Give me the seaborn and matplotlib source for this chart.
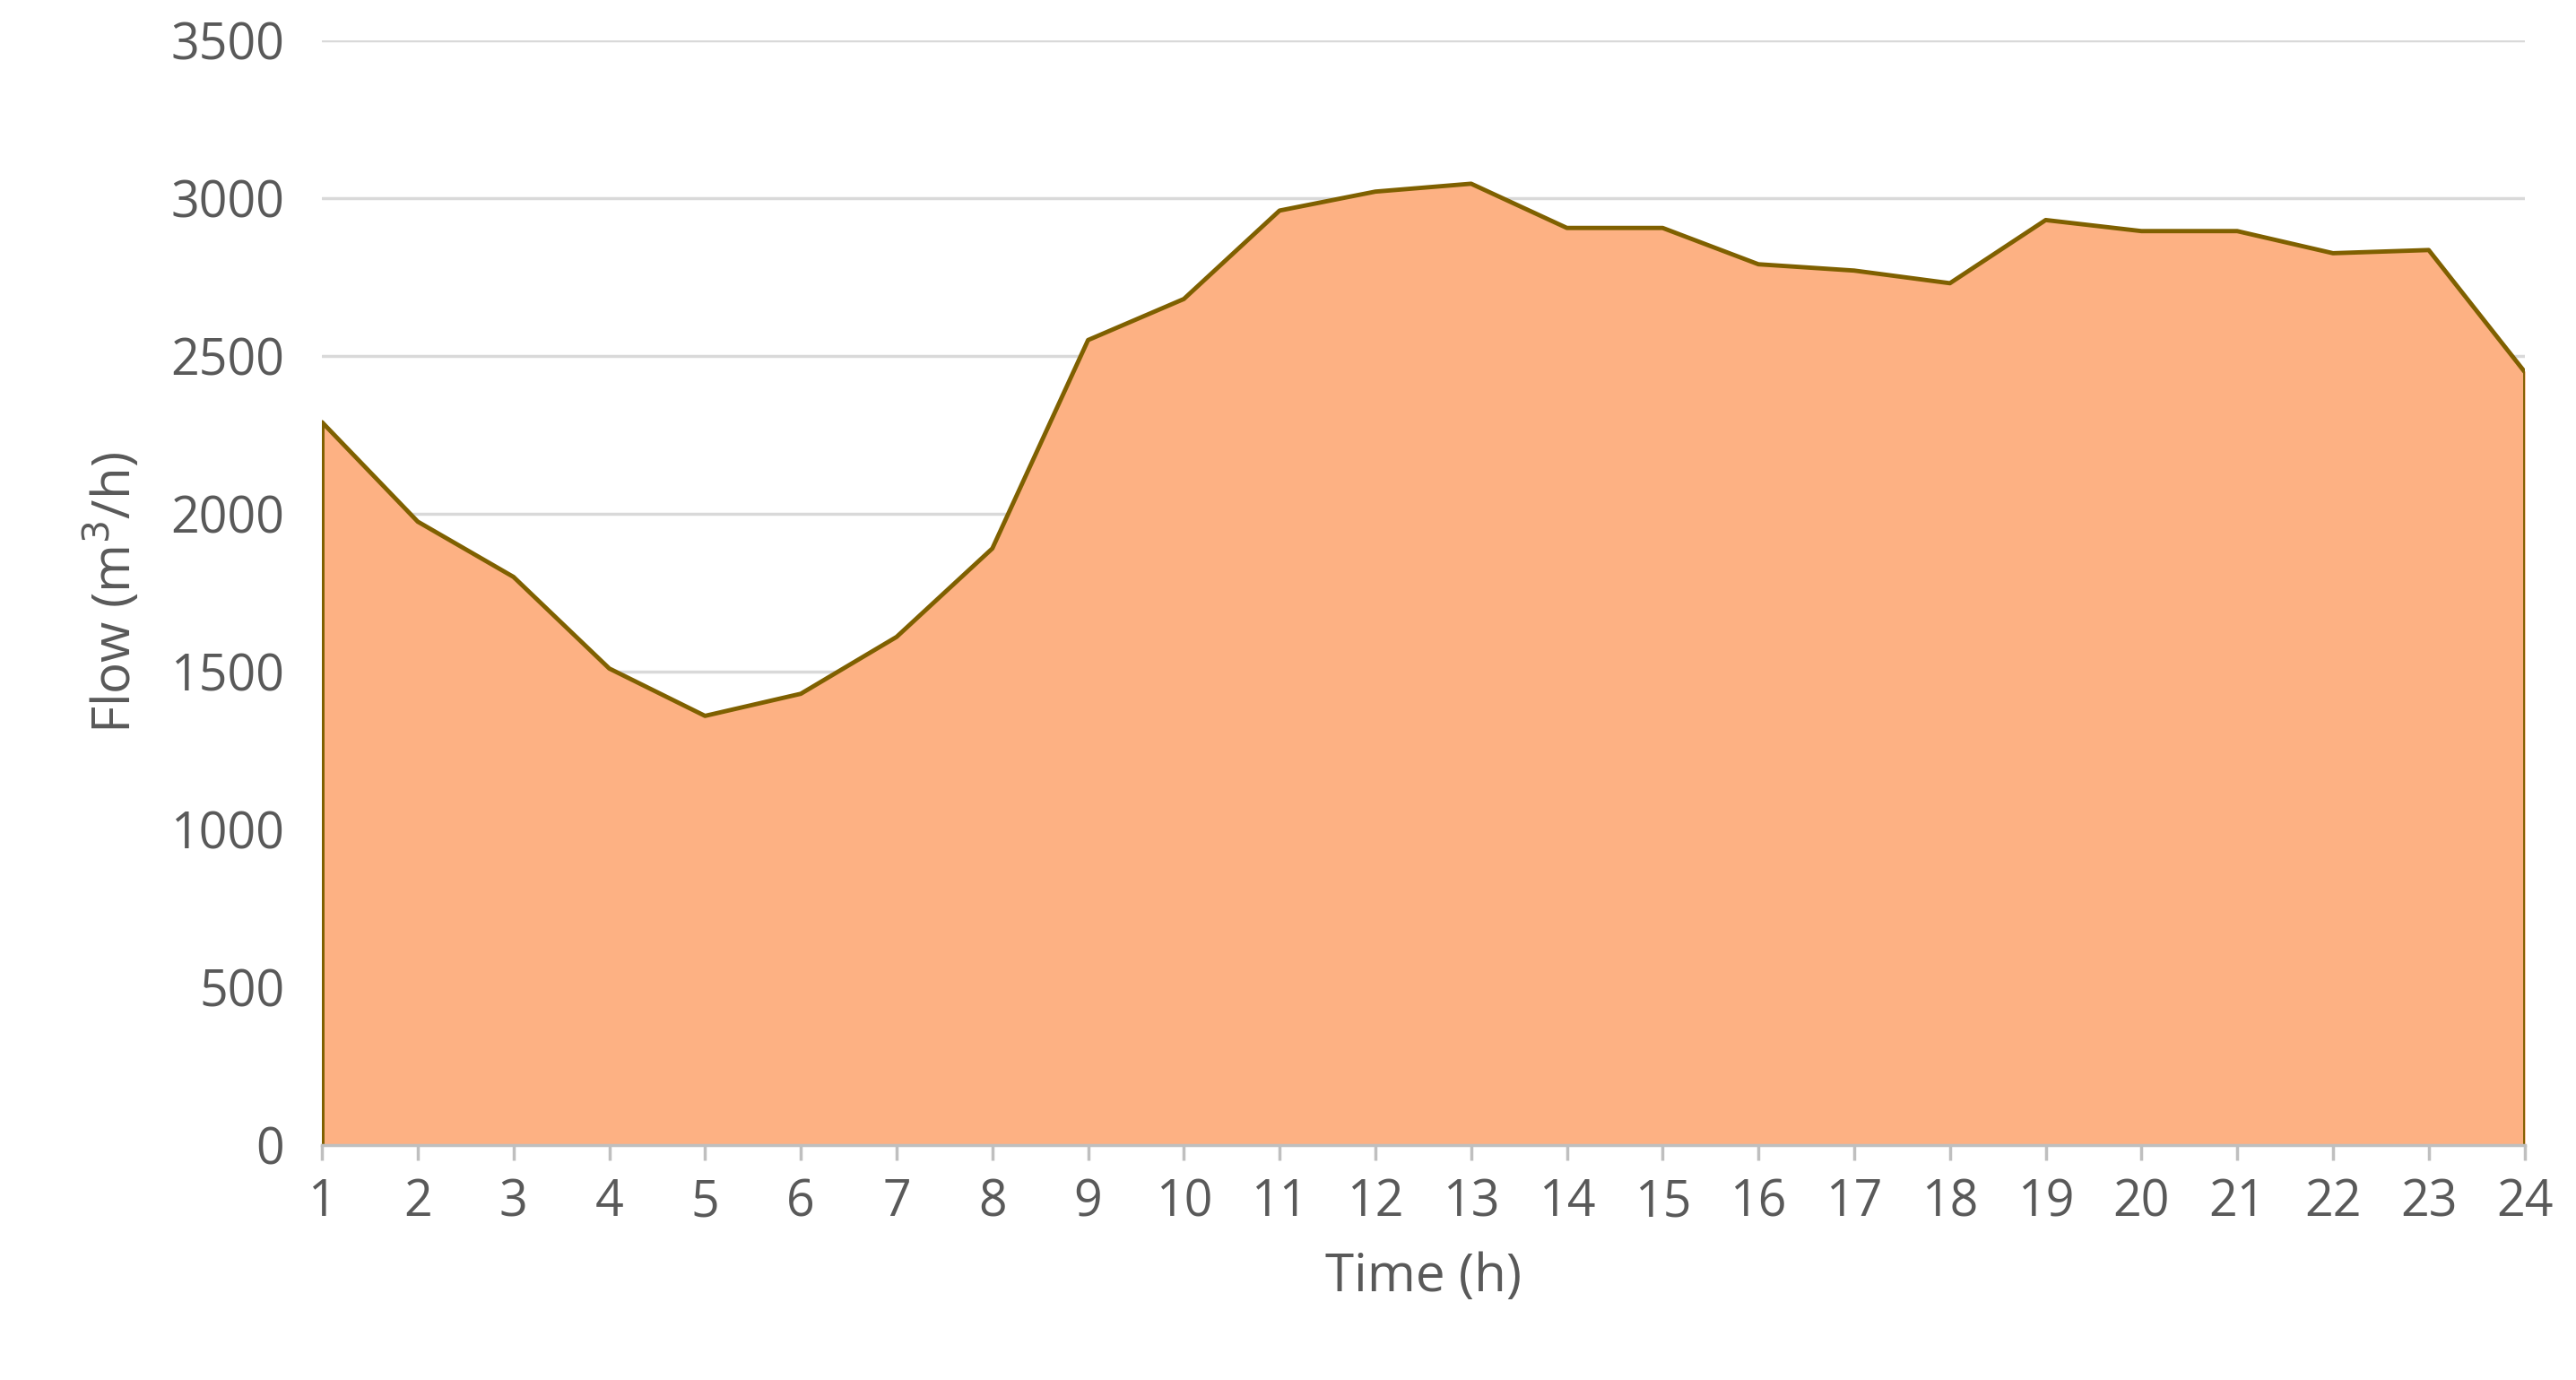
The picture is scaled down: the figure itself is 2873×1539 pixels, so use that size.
import matplotlib
matplotlib.use("Agg")
import matplotlib.pyplot as plt
import seaborn as sns
import pandas as pd

hours = list(range(1, 25))
flow = [2290, 1975, 1800, 1510, 1360, 1430, 1610, 1890, 2550, 2680, 2960, 3020,
        3045, 2905, 2905, 2790, 2770, 2730, 2930, 2895, 2895, 2825, 2835, 2450]
yticks = [0, 500, 1000, 1500, 2000, 2500, 3000, 3500]

sns.set_theme(style="white")
plt.rcParams['font.family'] = ['Open Sans', 'DejaVu Sans']

df = pd.DataFrame({"hour": hours, "flow": flow})
fig = plt.figure(figsize=(28.73, 15.39), dpi=100)
ax = fig.add_axes([0.125, 0.17, 0.855, 0.801])
ax.fill_between(df["hour"], 0, df["flow"], color="#FDB183", zorder=2)
sns.lineplot(data=df, x="hour", y="flow", ax=ax, color="#7F6000", lw=3.5, zorder=3)
ax.plot([1, 1], [0, flow[0]], color="#7F6000", lw=3.5, zorder=3)
ax.plot([24, 24], [0, flow[-1]], color="#7F6000", lw=3.5, zorder=3)

ax.set_xlim(1, 24)
ax.set_ylim(0, 3500)
ax.set_yticks(yticks)
ax.set_xticks(hours)
ax.grid(axis="y", color="#D9D9D9", lw=2.5, zorder=0)
for s in ["top", "right", "left"]:
    ax.spines[s].set_visible(False)
ax.spines["bottom"].set_color("#BFBFBF")
ax.spines["bottom"].set_linewidth(2.5)
ax.spines["bottom"].set_zorder(4)
ax.tick_params(axis="x", length=12, width=2.5, color="#BFBFBF", direction="out",
               labelsize=40, labelcolor="#595959", pad=14, bottom=True)
ax.tick_params(axis="y", length=0, labelsize=40, labelcolor="#595959", pad=30)
ax.set_xlabel("Time (h)", fontsize=42, color="#595959", labelpad=18)
ax.set_ylabel("Flow (m$^3$/h)", fontsize=42, color="#595959", labelpad=22)
fig.savefig("out.png", dpi=100)
